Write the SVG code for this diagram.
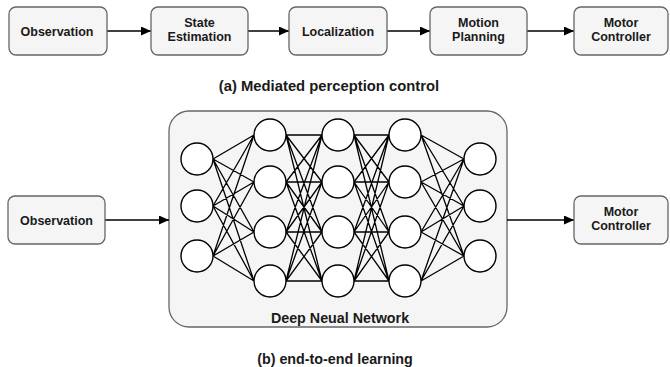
<svg xmlns="http://www.w3.org/2000/svg" width="670" height="367" viewBox="0 0 670 367">
<style>
.box{fill:#f5f5f5;stroke:#666666;stroke-width:1.3}
.t{font-family:"Liberation Sans",Arial,sans-serif;font-weight:bold;font-size:12.5px;fill:#1a1a1a;text-anchor:middle}
.cap{font-family:"Liberation Sans",Arial,sans-serif;font-weight:bold;font-size:14.3px;fill:#1a1a1a;text-anchor:middle}
.n{fill:#ffffff;stroke:#000000;stroke-width:1.4}
.e{stroke:#000000;stroke-width:1.3;fill:none}
.a{stroke:#000000;stroke-width:1.3;fill:none;marker-end:url(#arr)}
</style>
<defs>
<marker id="arr" viewBox="0 0 10 9" refX="10" refY="4.5" markerWidth="10" markerHeight="9" markerUnits="userSpaceOnUse" orient="auto">
<path d="M0,0 L10,4.5 L0,9 Z" fill="#000000"/>
</marker>
</defs>
<rect width="670" height="367" fill="#ffffff"/>

<g id="dnn-container"><rect class="box" x="169" y="111" width="338" height="216" rx="20"/><text class="cap" x="340" y="322.5">Deep Neual Network</text></g>

<g id="connectors">
<line class="a" x1="107" y1="31" x2="151" y2="31"/>
<line class="a" x1="248" y1="31" x2="289" y2="31"/>
<line class="a" x1="387" y1="31" x2="430" y2="31"/>
<line class="a" x1="527" y1="31" x2="574" y2="31"/>
<line class="a" x1="105" y1="220" x2="169" y2="220"/>
<line class="a" x1="507" y1="220" x2="574" y2="220"/>
<path class="e" d="M213,159L254,135M213,159L254,182M213,159L254,232M213,159L254,281
M213,206L254,135M213,206L254,182M213,206L254,232M213,206L254,281
M213,256L254,135M213,256L254,182M213,256L254,232M213,256L254,281
M286,135L322,135M286,135L322,182M286,135L322,232M286,135L322,281
M286,182L322,135M286,182L322,182M286,182L322,232M286,182L322,281
M286,232L322,135M286,232L322,182M286,232L322,232M286,232L322,281
M286,281L322,135M286,281L322,182M286,281L322,232M286,281L322,281
M354,135L389,135M354,135L389,182M354,135L389,232M354,135L389,281
M354,182L389,135M354,182L389,182M354,182L389,232M354,182L389,281
M354,232L389,135M354,232L389,182M354,232L389,232M354,232L389,281
M354,281L389,135M354,281L389,182M354,281L389,232M354,281L389,281
M421,135L464,159M421,135L464,206M421,135L464,256
M421,182L464,159M421,182L464,206M421,182L464,256
M421,232L464,159M421,232L464,206M421,232L464,256
M421,281L464,159M421,281L464,206M421,281L464,256"/>
</g>

<g id="observation-a"><rect class="box" x="9" y="7" width="98" height="48" rx="7"/><text class="t" x="57" y="35.5">Observation</text></g>
<g id="state-estimation"><rect class="box" x="151" y="7" width="97" height="48" rx="7"/><text class="t" x="199.5" y="26.5">State</text><text class="t" x="199.5" y="40.5">Estimation</text></g>
<g id="localization"><rect class="box" x="289" y="7" width="98" height="48" rx="7"/><text class="t" x="338" y="35.5">Localization</text></g>
<g id="motion-planning"><rect class="box" x="430" y="7" width="97" height="48" rx="7"/><text class="t" x="478.5" y="26.5">Motion</text><text class="t" x="478.5" y="40.5">Planning</text></g>
<g id="motor-controller-a"><rect class="box" x="574" y="7" width="94" height="48" rx="7"/><text class="t" x="621" y="26.5">Motor</text><text class="t" x="621" y="40.5">Controller</text></g>
<text class="cap" x="329" y="91" style="font-size:14.8px">(a) Mediated perception control</text>

<g id="observation-b"><rect class="box" x="8" y="196" width="97" height="48" rx="7"/><text class="t" x="56.5" y="224.5">Observation</text></g>
<g id="motor-controller-b"><rect class="box" x="574" y="196" width="94" height="48" rx="7"/><text class="t" x="621" y="215.5">Motor</text><text class="t" x="621" y="229.5">Controller</text></g>

<g id="n1-1"><circle class="n" cx="197" cy="159" r="16"/></g>
<g id="n1-2"><circle class="n" cx="197" cy="206" r="16"/></g>
<g id="n1-3"><circle class="n" cx="197" cy="256" r="16"/></g>
<g id="n2-1"><circle class="n" cx="270" cy="135" r="16"/></g>
<g id="n2-2"><circle class="n" cx="270" cy="182" r="16"/></g>
<g id="n2-3"><circle class="n" cx="270" cy="232" r="16"/></g>
<g id="n2-4"><circle class="n" cx="270" cy="281" r="16"/></g>
<g id="n3-1"><circle class="n" cx="338" cy="135" r="16"/></g>
<g id="n3-2"><circle class="n" cx="338" cy="182" r="16"/></g>
<g id="n3-3"><circle class="n" cx="338" cy="232" r="16"/></g>
<g id="n3-4"><circle class="n" cx="338" cy="281" r="16"/></g>
<g id="n4-1"><circle class="n" cx="405" cy="135" r="16"/></g>
<g id="n4-2"><circle class="n" cx="405" cy="182" r="16"/></g>
<g id="n4-3"><circle class="n" cx="405" cy="232" r="16"/></g>
<g id="n4-4"><circle class="n" cx="405" cy="281" r="16"/></g>
<g id="n5-1"><circle class="n" cx="480" cy="159" r="16"/></g>
<g id="n5-2"><circle class="n" cx="480" cy="206" r="16"/></g>
<g id="n5-3"><circle class="n" cx="480" cy="256" r="16"/></g>

<text class="cap" x="335" y="364">(b) end-to-end learning</text>
</svg>
